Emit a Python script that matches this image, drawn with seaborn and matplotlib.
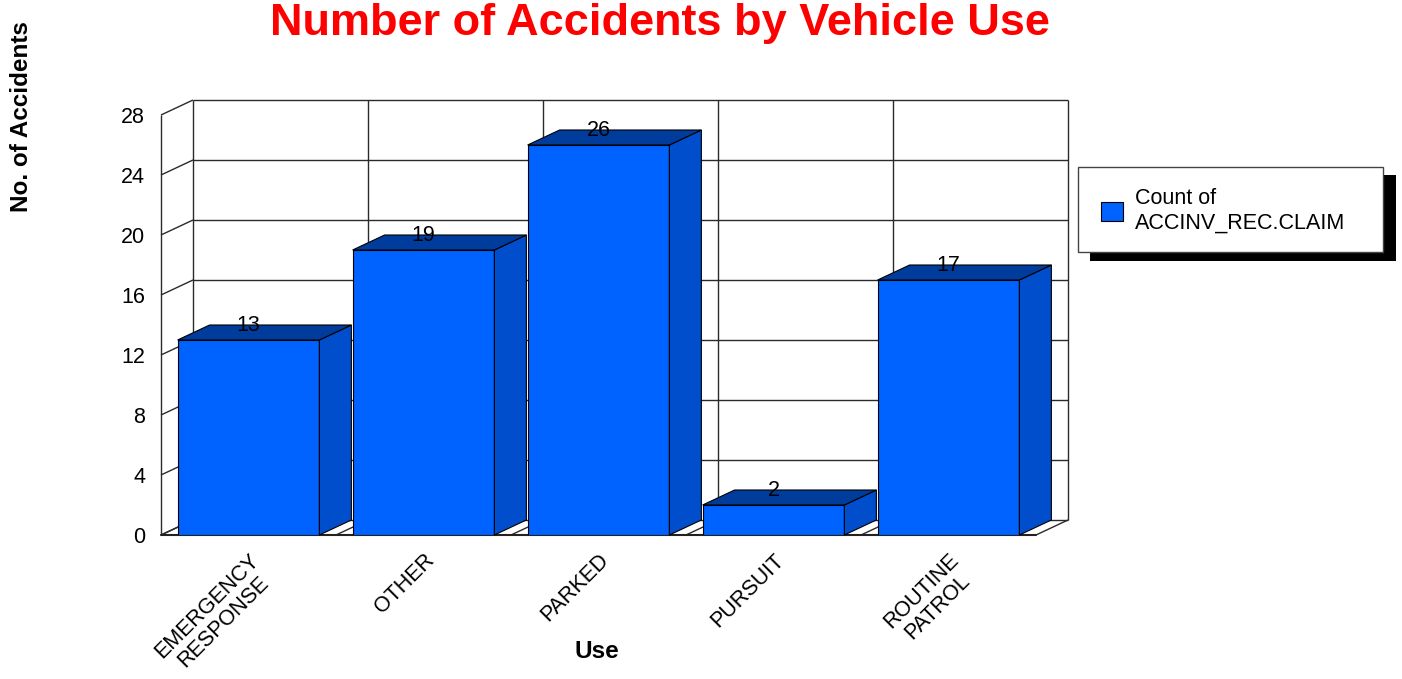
import pandas as pd
import matplotlib.pyplot as plt
import seaborn as sns
from matplotlib.patches import Polygon, Rectangle
from matplotlib.transforms import ScaledTranslation

# chart data
uses = ['EMERGENCY\nRESPONSE', 'OTHER', 'PARKED', 'PURSUIT', 'ROUTINE\nPATROL']
counts = [13, 19, 26, 2, 17]
y_ticks = [0, 4, 8, 12, 16, 20, 24, 28]
series_name = 'Count of\nACCINV_REC.CLAIM'

df = pd.DataFrame({'use': uses, 'count': counts})

sns.set_style('white')
plt.rcParams['font.family'] = ['Liberation Sans', 'DejaVu Sans']
plt.rcParams['text.color'] = 'black'
plt.rcParams['xtick.color'] = 'black'
plt.rcParams['ytick.color'] = 'black'

W, H = 1402, 679
fig = plt.figure(figsize=(W / 100, H / 100), dpi=100)

# axes cover the front plane plus the depth of the pseudo-3D box
left, right, bottom, top = 161, 1068, 535, 100
ax = fig.add_axes([left / W, 1 - bottom / H, (right - left) / W, (bottom - top) / H])

dx = 32 / 175   # depth offset in category units
dy = 1.0        # depth offset in value units
ymax = y_ticks[-1]

front = '#0062FF'
side = '#004ECC'
topc = '#003C9C'
wall = '#2a2a2a'

# back wall, left wall and floor
kw = dict(color=wall, lw=1.0, zorder=1, clip_on=False, solid_capstyle='butt')
for v in y_ticks:
    ax.plot([-0.5 + dx, 4.5 + dx], [v + dy, v + dy], **kw)
    ax.plot([-0.5, -0.5 + dx], [v, v + dy], **kw)
for k in range(6):
    ax.plot([-0.5 + dx + k] * 2, [dy, ymax + dy], **kw)
    ax.plot([-0.5 + k, -0.5 + k + dx], [0, dy], **kw)
ax.plot([-0.5, -0.5], [0, ymax], **kw)
ax.plot([-0.5, 4.5], [0, 0], color='#222222', lw=1.5, zorder=1, clip_on=False)

sns.barplot(data=df, x='use', y='count', color=front, width=0.81, saturation=1,
            edgecolor='black', linewidth=0.8, ax=ax, label=series_name, zorder=3)
handles, labels = ax.get_legend_handles_labels()
if ax.get_legend() is not None:
    ax.get_legend().remove()

# side and top faces of each bar
for p in ax.containers[0].patches:
    x0, w, h = p.get_x(), p.get_width(), p.get_height()
    ax.add_patch(Polygon([(x0 + w, 0), (x0 + w + dx, dy), (x0 + w + dx, h + dy), (x0 + w, h)],
                         closed=True, facecolor=side, edgecolor='black', lw=0.8, zorder=3, clip_on=False))
    ax.add_patch(Polygon([(x0, h), (x0 + dx, h + dy), (x0 + w + dx, h + dy), (x0 + w, h)],
                         closed=True, facecolor=topc, edgecolor='black', lw=0.8, zorder=3, clip_on=False))

ax.bar_label(ax.containers[0], labels=[str(c) for c in counts], padding=3, fontsize=15.5,
             color='black', zorder=6)

ax.set_xlim(-0.5, 4.5 + dx)
ax.set_ylim(0, ymax + dy)
for s in ax.spines.values():
    s.set_visible(False)
ax.set_yticks(y_ticks)
ax.set_xticks(range(len(uses)))
ax.set_xticklabels(uses, rotation=45, ha='right', va='top', rotation_mode='anchor',
                   multialignment='center', linespacing=1.1)
ax.tick_params(axis='y', length=0, pad=11.5, labelsize=15.5, labelcolor='black')
ax.tick_params(axis='x', length=0, pad=10.5, labelsize=15.5, labelcolor='black')
for lab in ax.get_xticklabels():
    lab.set_transform(lab.get_transform() + ScaledTranslation(0, 0, fig.dpi_scale_trans))
ax.set_xlabel('')
ax.set_ylabel('')

# legend box with a hard black shadow
fig.add_artist(Rectangle((1090 / W, 1 - 261 / H), 306 / W, 86 / H, transform=fig.transFigure,
                         facecolor='black', edgecolor='none', zorder=1))
fig.add_artist(Rectangle((1078 / W, 1 - 252 / H), 305 / W, 85 / H, transform=fig.transFigure,
                         facecolor='white', edgecolor='#444444', lw=1, zorder=2))
leg = fig.legend(handles, labels, loc='center left', bbox_to_anchor=(1101 / W, 1 - 211 / H),
                 frameon=False, borderpad=0, borderaxespad=0, handlelength=1.0, handleheight=1.0,
                 handletextpad=0.6, fontsize=15.5)
leg.set_zorder(5)

fig.text(660 / W, 1 - 35 / H, 'Number of Accidents by Vehicle Use', color='#FF0000',
         fontsize=32.5, fontweight='bold', ha='center', va='baseline')
fig.text(22 / W, 1 - 117 / H, 'No. of Accidents', rotation=90, fontsize=17.5,
         fontweight='bold', ha='center', va='center')
fig.text(597 / W, 1 - 652 / H, 'Use', fontsize=17.5, fontweight='bold', ha='center', va='center')

fig.savefig('out.png', dpi=100)
